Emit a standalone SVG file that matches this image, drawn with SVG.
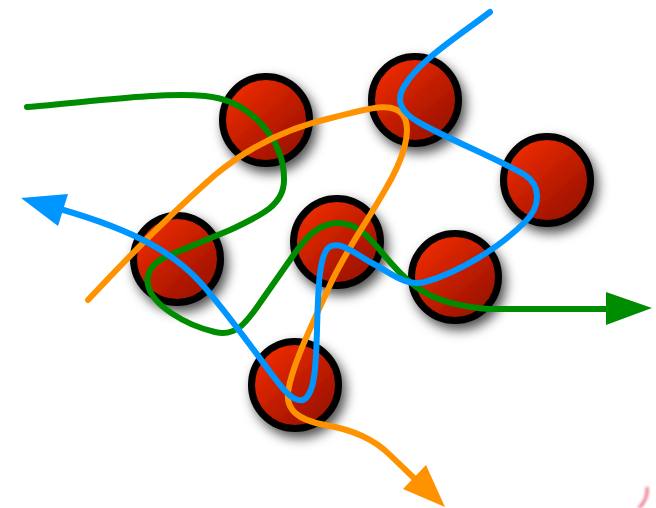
<svg xmlns="http://www.w3.org/2000/svg" width="656" height="508" viewBox="0 0 656 508">
<defs>
<linearGradient id="ballGrad" x1="0.15" y1="0.1" x2="0.85" y2="0.9">
<stop offset="0" stop-color="#ee2c00"/>
<stop offset="1" stop-color="#981000"/>
</linearGradient>
<filter id="shadow" x="-50%" y="-50%" width="200%" height="200%">
<feDropShadow dx="4" dy="6" stdDeviation="6" flood-color="#000" flood-opacity="0.7"/>
</filter>
<filter id="soft" x="-100%" y="-100%" width="300%" height="300%">
<feGaussianBlur stdDeviation="1.5"/>
</filter>
<style>
.ball{fill:url(#ballGrad);stroke:#000;stroke-width:7;filter:url(#shadow)}
.wire{fill:none;stroke-width:6;stroke-linecap:round;stroke-linejoin:round}
.green{stroke:#008c00}
.orange{stroke:#ff9200}
.blue{stroke:#0096ff}
</style>
</defs>
<rect width="656" height="508" fill="#fff"/>
<g id="ball1"><circle class="ball" cx="266" cy="120" r="43.5"/></g>
<g id="ball2"><circle class="ball" cx="415" cy="100" r="43.5"/></g>
<g id="ball3"><circle class="ball" cx="547" cy="180" r="43.5"/></g>
<g id="ball4"><circle class="ball" cx="337" cy="242" r="43.5"/></g>
<g id="ball5"><circle class="ball" cx="177" cy="259" r="43.5"/></g>
<g id="ball6"><circle class="ball" cx="455" cy="277" r="43.5"/></g>
<g id="ball7"><circle class="ball" cx="295" cy="385" r="43.5"/></g>
<g id="connectors">
<path class="wire green" d="M27,107 C90,102 160,92 205,96 C250,100 285,140 284,180 C284,205 262,215 230,230 L170,255 C150,263 146,275 148,285 C152,305 185,325 215,332 C235,337 245,325 262,300 L290,260 C305,238 318,223 338,223 C358,223 370,238 390,262 C410,285 430,305 490,309 L612,309"/>
<polygon fill="#008c00" points="606,292 652,308 606,325"/>
<path class="wire orange" d="M88,300 C130,255 175,210 215,175 C245,150 285,128 335,117 C365,110 392,100 403,115 C413,130 403,160 385,190 C365,225 345,252 330,285 C312,325 292,365 288,392 C286,410 298,420 325,425 C355,430 375,440 390,455 L416,480"/>
<polygon fill="#ff9200" points="445,507 403,489 426,465"/>
<path class="wire blue" d="M490,12 C460,35 420,60 405,85 C395,100 400,112 420,123 C450,140 500,160 525,175 C540,185 542,205 525,222 C500,247 460,272 425,282 C405,287 390,272 370,262 C350,250 338,240 328,248 C318,258 318,300 317,330 C316,365 315,395 303,400 C292,402 282,388 270,372 C250,345 225,310 200,282 C175,255 140,232 60,209"/>
<polygon fill="#0096ff" points="21,198 68,194 58,226"/>
</g>
<path d="M647,487 C648,495 645,502 639,508" fill="none" stroke="#e23a55" stroke-width="3" filter="url(#soft)" opacity="0.7"/>
</svg>
